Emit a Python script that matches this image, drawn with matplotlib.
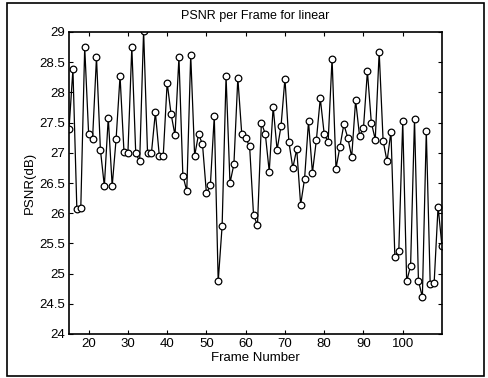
import numpy as np
import matplotlib.pyplot as plt
from matplotlib.patches import Rectangle
from matplotlib.ticker import FormatStrFormatter

# ------ Données ------

frames = np.arange(15, 111)

psnr = [
    27.39, 28.38, 26.07, 26.08, 28.75, 27.31, 27.23, 28.58, 27.05, 26.45,  # 15-24
    27.58, 26.45, 27.23, 28.27, 27.02, 26.99, 28.75, 26.99, 26.86, 29.02,  # 25-34
    27.00, 27.00, 27.67, 26.95, 26.95, 28.16, 27.64, 27.29, 28.58, 26.62,  # 35-44
    26.37, 28.62, 26.95, 27.31, 27.14, 26.33, 26.46, 27.61, 24.87, 25.79,  # 45-54
    28.27, 26.50, 26.81, 28.24, 27.31, 27.24, 27.11, 25.97, 25.80, 27.50,  # 55-64
    27.31, 26.69, 27.76, 27.05, 27.44, 28.23, 27.18, 26.75, 27.06, 26.14,  # 65-74
    26.57, 27.52, 26.67, 27.21, 27.90, 27.31, 27.18, 28.56, 26.74, 27.10,  # 75-84
    27.47, 27.25, 26.93, 27.87, 27.28, 27.41, 28.35, 27.50, 27.22, 28.67,  # 85-94
    27.20, 26.86, 27.35, 25.27, 25.38, 27.52, 24.87, 25.13, 27.56, 24.88,  # 95-104
    24.61, 27.36, 24.82, 24.85, 26.11, 25.45,                              # 105-110
]

x_ticks = [20, 30, 40, 50, 60, 70, 80, 90, 100]
y_ticks = [24, 24.5, 25, 25.5, 26, 26.5, 27, 27.5, 28, 28.5, 29]

# ------ Figure ------

plt.rcParams['font.family'] = ['Liberation Sans', 'DejaVu Sans']

fig = plt.figure(figsize=(4.88, 3.78), dpi=100)

# cadre extérieur (style fenêtre imprimée)
fig.patches.append(Rectangle((7 / 488, 2 / 378), 477 / 488, 373 / 378,
                             transform=fig.transFigure, fill=False,
                             edgecolor='black', linewidth=1.2))

ax = fig.add_axes([69 / 488, 44 / 378, 373 / 488, 302 / 378])

ax.plot(frames, psnr, color='black', linewidth=0.9, marker='o',
        markersize=4.8, markerfacecolor='white', markeredgecolor='black',
        markeredgewidth=0.9)

ax.set_xlim(15, 110)
ax.set_ylim(24, 29)
ax.set_xticks(x_ticks)
ax.set_yticks(y_ticks)
ax.yaxis.set_major_formatter(FormatStrFormatter('%g'))
ax.tick_params(direction='in', top=True, right=True, length=3,
               labelsize=9.5, pad=3)

for s in ax.spines.values():
    s.set_linewidth(1.2)

ax.set_xlabel('Frame Number', fontsize=9.5, labelpad=1)
ax.set_ylabel('PSNR(dB)', fontsize=9.5, labelpad=2)
ax.set_title('PSNR per Frame for linear', fontsize=9, pad=9)

plt.savefig('out.png', dpi=100)
